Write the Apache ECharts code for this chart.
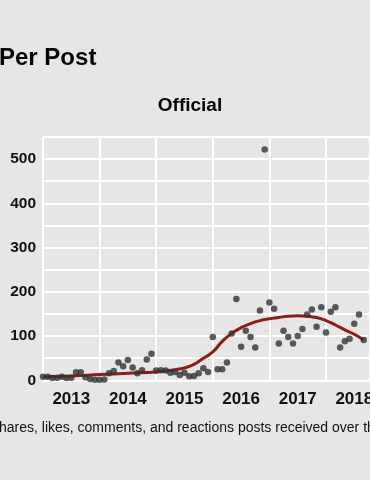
<!DOCTYPE html>
<html><head><meta charset="utf-8">
<script src="https://cdn.jsdelivr.net/npm/echarts@6/dist/echarts.min.js"></script>
<style>html,body{margin:0;padding:0;background:#e6e6e6;overflow:hidden}#c{width:370px;height:480px}</style>
</head><body><div id="c"></div>
<script>
const months = ['2013-01','2013-02','2013-03','2013-04','2013-05','2013-06','2013-07','2013-08','2013-09','2013-10','2013-11','2013-12',
'2014-01','2014-02','2014-03','2014-04','2014-05','2014-06','2014-07','2014-08','2014-09','2014-10','2014-11','2014-12',
'2015-01','2015-02','2015-03','2015-04','2015-05','2015-06','2015-07','2015-08','2015-09','2015-10','2015-11','2015-12',
'2016-01','2016-02','2016-03','2016-04','2016-05','2016-06','2016-07','2016-08','2016-09','2016-10','2016-11','2016-12',
'2017-01','2017-02','2017-03','2017-04','2017-05','2017-06','2017-07','2017-08','2017-09','2017-10','2017-11','2017-12',
'2018-01','2018-02','2018-03','2018-04','2018-05','2018-06','2018-07','2018-08','2018-09'];
const interactions = [8,8,5,6,8,5,6,18,18,7,3,1,
1,2,16,21,40,32,46,29,16,23,47,60,
22,23,22,17,19,12,17,9,10,16,27,19,
98,25,25,40,106,184,76,112,98,74,158,522,
176,162,83,112,98,83,100,116,149,160,121,165,
108,155,165,74,88,94,128,149,91];
const trendMonths = ['2013-01','2013-07','2014-01','2014-07','2015-01','2015-05','2015-07','2015-09','2015-11','2016-01','2016-03','2016-05','2016-07','2016-09','2016-11','2017-01','2017-03','2017-05','2017-07','2017-09','2017-11','2018-01','2018-03','2018-05','2018-07','2018-09'];
const trendValues = [8,10,13,16,19,24,28,36,50,64,88,106,119,128,135,139,142,145,146,145,142,135,125,114,104,91];
const yearLabels = ['2013','2014','2015','2016','2017','2018'];
const yTickLabels = [0,100,200,300,400,500];
const titleText = 'Per Post';
const facetTitle = 'Official';
const captionText = 'hares, likes, comments, and reactions posts received over th';

function monthIndex(s){const p=s.split('-').map(Number);return (p[0]-2013)*12+(p[1]-1);}
const FONT='"Liberation Sans", Arial, Helvetica, sans-serif';
const XMAX = 69.33; // visible window (months from Jan 2013)
const chart = echarts.init(document.getElementById('c'), null, {renderer:'canvas'});
chart.setOption({
  animation:false,
  backgroundColor:'#e6e6e6',
  grid:{left:43, top:137, right:0, height:243.3, containLabel:false, outerBoundsMode:'none'},
  xAxis:[
    {type:'value', min:0, max:XMAX, interval:12,
     axisLine:{show:false}, axisTick:{show:false}, axisLabel:{show:false},
     splitLine:{show:true, lineStyle:{color:'#ffffff', width:2}}},
    {type:'value', min:0, max:XMAX, interval:6, position:'bottom',
     axisLine:{show:false}, axisTick:{show:false}, splitLine:{show:false},
     axisLabel:{show:true, margin:11, color:'#111', fontWeight:'bold', fontSize:17, fontFamily:FONT,
       showMinLabel:true, showMaxLabel:false, hideOverlap:false,
       formatter:function(v){ if (Math.round(v)%12===6){ const k=Math.floor(v/12); return yearLabels[k]||''; } return ''; }}}
  ],
  yAxis:{type:'value', min:0, max:550, interval:50,
    axisLine:{show:false}, axisTick:{show:false},
    axisLabel:{margin:7, color:'#111', fontWeight:'bold', fontSize:15.5, fontFamily:FONT,
      formatter:function(v){return yTickLabels.indexOf(v)>=0?String(v):'';}},
    splitLine:{show:true, lineStyle:{color:'#ffffff', width:2}}},
  series:[
    {type:'line', xAxisIndex:0, smooth:0.5, showSymbol:false, z:2,
     data:trendMonths.map((m,i)=>[monthIndex(m), trendValues[i]]),
     lineStyle:{color:'#8e1a1a', width:3}},
    {type:'scatter', xAxisIndex:0, symbolSize:6.5, z:3, clip:false,
     data:months.map((m,i)=>[monthIndex(m), interactions[i]]),
     itemStyle:{color:'#333333'}}
  ],
  graphic:[
    {type:'text', x:-1, y:46, style:{text:titleText, font:'bold 24px '+FONT, fill:'#000', textVerticalAlign:'top'}},
    {type:'text', x:190, y:96, style:{text:facetTitle, font:'bold 19px '+FONT, fill:'#000', textAlign:'center', textVerticalAlign:'top'}},
    {type:'text', x:-1, y:421, style:{text:captionText, font:'14px '+FONT, fill:'#111', textVerticalAlign:'top'}}
  ]
});
</script></body></html>
